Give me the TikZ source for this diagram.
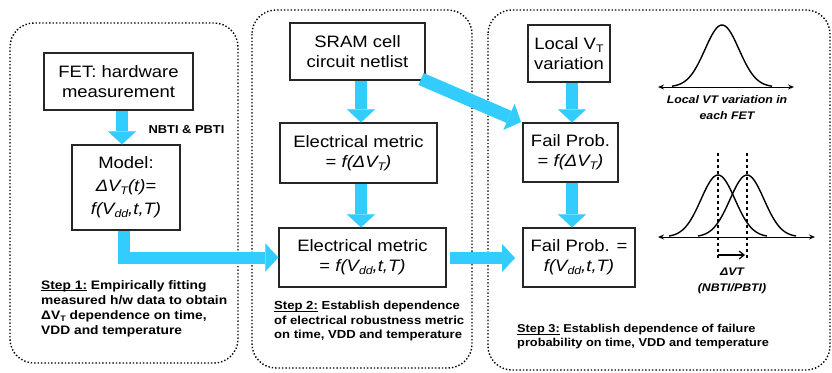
\documentclass[tikz,border=0pt]{standalone}
\usepackage{fontspec}
\setmainfont[FakeStretch=1.12]{Liberation Sans}
\usetikzlibrary{arrows.meta}
\definecolor{fatblue}{RGB}{51,204,255}
\newcommand{\lsub}[1]{\raisebox{-0.35ex}{\fontsize{11}{11}\selectfont #1}}
\newcommand{\ssub}[1]{\raisebox{-0.35ex}{\fontsize{8}{8}\selectfont #1}}
\newcommand{\stepul}[1]{\underline{\smash{#1}}}
\tikzset{
  box/.style={draw=black!85, line width=1.3pt, align=center, inner sep=0pt,
    font=\fontsize{16.5}{20}\selectfont},
  panel/.style={draw=black, line width=1.4pt, dotted, rounded corners=24pt},
  fat/.style={draw=fatblue, line width=12pt,
    -{Triangle[length=13pt,width=28pt,line width=0.01pt]}},
  steptext/.style={anchor=north west, align=left, inner sep=0pt,
    font=\bfseries\fontsize{12.3}{15}\selectfont},
  curve/.style={draw=black, line width=1.4pt},
  axis/.style={draw=black, line width=1pt, {Stealth[length=6pt,width=5pt]}-{Stealth[length=6pt,width=5pt]}},
  lbl/.style={align=center, inner sep=0pt, font=\bfseries\itshape\fontsize{11}{16}\selectfont}
}
\begin{document}
\begin{tikzpicture}[x=1pt,y=-1pt]
\useasboundingbox (0,0) rectangle (832,372);
% panels
\draw[panel] (10,23) rectangle (238,363);
\draw[panel] (252,10) rectangle (472,368);
\draw[panel] (488,10) rectangle (830,370);

% boxes
\node[box, minimum width=149pt, minimum height=57pt] (fet) at (118.5,81.5) {FET: hardware\\measurement};
\node[box, minimum width=108pt, minimum height=85pt, font=\fontsize{16.5}{23}\selectfont] (model) at (126,187.5)
  {Model:\\{\itshape ΔV\lsub{T}(t)=}\\{\itshape f(V\lsub{dd},t,T)}};
\node[box, minimum width=135pt, minimum height=57pt] (sram) at (357.5,51.5) {SRAM cell\\circuit netlist};
\node[box, minimum width=157pt, minimum height=60pt] (em1) at (358.5,153) {Electrical metric\\= {\itshape f(ΔV\lsub{T})}};
\node[box, minimum width=167pt, minimum height=59pt] (em2) at (362.5,257.5) {Electrical metric\\= {\itshape f(V\lsub{dd},t,T)}};
\node[box, minimum width=82pt, minimum height=57pt] (lvt) at (569,53.5) {Local V\lsub{T}\\variation};
\node[box, minimum width=95pt, minimum height=59pt] (fp1) at (570.5,152.5) {Fail Prob.\\= {\itshape f(ΔV\lsub{T})}};
\node[box, minimum width=112pt, minimum height=59pt] (fp2) at (579,257.5) {Fail Prob. =\\{\itshape f(V\lsub{dd},t,T)}};

% fat arrows
\draw[fat] (fet.south -| 122,0) -- (model.north -| 122,0);
\node[inner sep=0pt, font=\bfseries\fontsize{11.5}{12}\selectfont] (nbti) at (186.5,130) {NBTI \& PBTI};
\draw[fat, line join=miter] (model.south -| 124,0) |- (em2.west);
\draw[fat] (sram.south -| 361,0) -- (em1.north -| 361,0);
\draw[fat] (em1.south -| 361,0) -- (em2.north -| 361,0);
\draw[fat] (lvt.south -| 572,0) -- (fp1.north -| 572,0);
\draw[fat] (fp1.south -| 572,0) -- (fp2.north -| 572,0);
\coordinate (em2r) at (450,258);
\coordinate (fp2l) at (515,258);
\draw[fat] (em2r) -- (fp2l);
\coordinate (diagS) at (421,79);
\coordinate (diagE) at (521,122);
\draw[fat, line width=13pt] (diagS) -- (diagE);

% step texts
\node[steptext] (s1) at (41,280) {\stepul{Step 1:} Empirically fitting\\measured h/w data to obtain\\ΔV\ssub{T} dependence on time,\\VDD and temperature};
\node[steptext, font=\bfseries\fontsize{11.7}{14.5}\selectfont] (s2) at (274,301) {\stepul{Step 2:} Establish dependence\\of electrical robustness metric\\on time, VDD and temperature};
\node[steptext, font=\bfseries\fontsize{11.4}{13.8}\selectfont] (s3) at (517,324) {\stepul{Step 3:} Establish dependence of failure\\probability on time, VDD and temperature};

% gaussian 1
\draw[axis] (658,87) -- (794,87);
\draw[curve] plot[domain=-50:50, samples=60, smooth] ({722+\x},{87-62*exp(-(\x)*(\x)/578)});
\node[lbl] (g1) at (727,108) {Local VT variation in\\each FET};

% gaussian 2
\draw[axis] (658,237) -- (815,237);
\draw[curve] plot[domain=-49:49, samples=60, smooth] ({718+\x},{237-62*exp(-(\x)*(\x)/578)});
\draw[curve] plot[domain=-49:49, samples=60, smooth] ({747+\x},{237-62*exp(-(\x)*(\x)/578)});
\draw[line width=1.2pt, dashed] (718,153) -- (718,260);
\draw[line width=1.2pt, dashed] (747,153) -- (747,260);
\draw[line width=1.2pt, -{Straight Barb[length=5pt,width=8pt]}] (718,255) -- (745,255);
\node[lbl] (g2) at (732,281) {ΔVT\\(NBTI/PBTI)};
\end{tikzpicture}
\end{document}
